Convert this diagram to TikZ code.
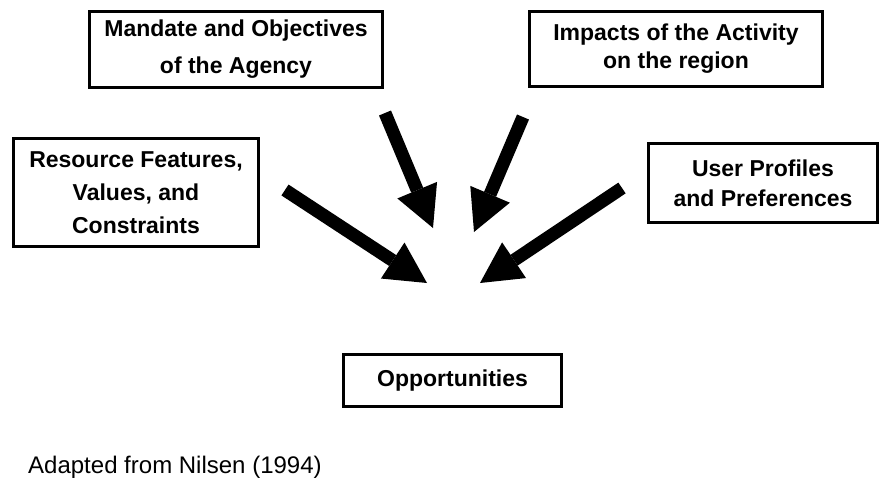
\documentclass[tikz,border=0pt]{standalone}
\usepackage{fontspec}
\setmainfont{Liberation Sans}
\usetikzlibrary{arrows.meta}
\begin{document}
\begin{tikzpicture}[x=1pt,y=-1pt,
  box/.style={draw, line width=3pt, inner sep=0pt, align=center},
  flow/.style={line width=13pt, line cap=butt,
    -{Triangle[length=41pt,width=43pt,line width=0pt]}}]
% canvas
\fill[white] (0,0) rectangle (884,488);
\useasboundingbox (0,0) rectangle (884,488);

% factor boxes
\node[box, minimum width=293pt, minimum height=76pt,
      font=\fontsize{23}{37}\selectfont\bfseries] (mandate) at (236,49.5)
  {Mandate and Objectives\\of the Agency};
\node[box, minimum width=293pt, minimum height=75pt,
      font=\fontsize{23}{28}\selectfont\bfseries] (impacts) at (676,49)
  {Impacts of the Activity\\on the region};
\node[box, minimum width=245pt, minimum height=108pt,
      font=\fontsize{23}{33}\selectfont\bfseries] (resource) at (136,192.5)
  {Resource Features,\\Values, and\\Constraints};
\node[box, minimum width=229pt, minimum height=79pt,
      font=\fontsize{23}{30}\selectfont\bfseries] (users) at (763,183)
  {User Profiles\\and Preferences};
\node[box, minimum width=218pt, minimum height=52pt,
      font=\fontsize{23}{28}\selectfont\bfseries] (opps) at (452.5,380.5)
  {Opportunities};

% source note
\node[anchor=base west, inner sep=0pt, font=\fontsize{24}{28}\selectfont]
  (source) at (28,473) {Adapted from Nilsen (1994)};

% arrow ends
\coordinate (mandateTail) at (385,113);
\coordinate (mandateTip) at (433,228);
\coordinate (impactsTail) at (523,117);
\coordinate (impactsTip) at (474,232);
\coordinate (resourceTail) at (285,190);
\coordinate (resourceTip) at (427,283);
\coordinate (usersTail) at (622,188);
\coordinate (usersTip) at (480,283);

% converging arrows
\draw[flow] (mandateTail) -- (mandateTip);
\draw[flow] (impactsTail) -- (impactsTip);
\draw[flow] (resourceTail) -- (resourceTip);
\draw[flow] (usersTail) -- (usersTip);
\end{tikzpicture}
\end{document}
